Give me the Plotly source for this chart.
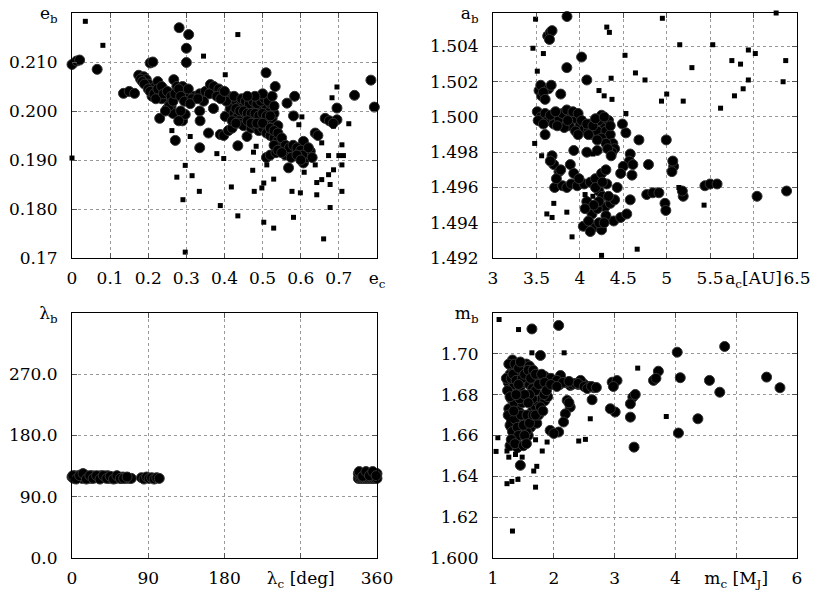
import plotly.graph_objects as go

# ---- panel 1: e_b vs e_c ----
ec_big = [0.000, 0.012, 0.020, 0.066, 0.135, 0.150, 0.164, 0.175, 0.188, 0.195, 0.205, 0.212,
          0.200, 0.215, 0.225, 0.210, 0.230, 0.240, 0.245, 0.255, 0.250, 0.235, 0.230,
          0.267, 0.275, 0.260, 0.265, 0.271, 0.281, 0.306, 0.300, 0.300,
          0.290, 0.300, 0.310, 0.290, 0.297, 0.285, 0.320, 0.335, 0.335, 0.336, 0.335,
          0.350, 0.363, 0.372, 0.358, 0.371, 0.385, 0.395, 0.389, 0.402, 0.398, 0.410, 0.420, 0.435,
          0.410, 0.420, 0.430, 0.440, 0.450, 0.460, 0.470, 0.480, 0.490, 0.500, 0.510, 0.520,
          0.415, 0.425, 0.435, 0.445, 0.455, 0.465, 0.475, 0.485, 0.495, 0.505, 0.515, 0.525,
          0.440, 0.450, 0.459, 0.470, 0.480, 0.490, 0.500, 0.510,
          0.509, 0.533, 0.520, 0.530, 0.540,
          0.520, 0.530, 0.540, 0.550, 0.545, 0.555, 0.565, 0.575, 0.585, 0.595, 0.610, 0.620,
          0.510, 0.520, 0.535, 0.560,
          0.564, 0.584, 0.581, 0.568, 0.607, 0.607, 0.615, 0.625,
          0.638, 0.645, 0.664, 0.675, 0.695, 0.695, 0.685, 0.741, 0.784, 0.793,
          0.180, 0.185, 0.190, 0.200, 0.205, 0.215, 0.220, 0.225, 0.235, 0.240, 0.250, 0.260,
          0.255, 0.245, 0.265, 0.270, 0.280, 0.285, 0.295, 0.305, 0.315, 0.280, 0.310,
          0.405, 0.425, 0.445, 0.455, 0.465, 0.475, 0.485, 0.495, 0.505, 0.515, 0.525, 0.500, 0.480, 0.460,
          0.430, 0.440, 0.450, 0.460, 0.470, 0.480, 0.490, 0.500, 0.510, 0.520, 0.530,
          0.420, 0.430, 0.460, 0.470, 0.485, 0.500, 0.520, 0.530, 0.540,
          0.360, 0.380, 0.390, 0.400, 0.345, 0.330,
          0.550, 0.560, 0.570, 0.580, 0.590, 0.600, 0.605, 0.530, 0.540, 0.550, 0.575, 0.590, 0.600, 0.620, 0.630]
eb_big = [0.2095, 0.2102, 0.2104, 0.2085, 0.2036, 0.2040, 0.2036, 0.2073, 0.2070, 0.2064, 0.2098, 0.2100,
          0.2055, 0.2048, 0.2060, 0.2030, 0.2040, 0.2045, 0.2030, 0.2020, 0.2005, 0.2025, 0.1985,
          0.2064, 0.2050, 0.2010, 0.1995, 0.1940, 0.2170, 0.2156, 0.2128, 0.2099,
          0.2050, 0.2040, 0.2030, 0.1980, 0.1993, 0.2000, 0.2030, 0.2035, 0.2000, 0.1980, 0.1925,
          0.2040, 0.2054, 0.2050, 0.1955, 0.2005, 0.2045, 0.2040, 0.1952, 0.1989, 0.1950, 0.1960, 0.1965, 0.1929,
          0.2030, 0.2020, 0.2015, 0.2010, 0.2010, 0.2005, 0.2000, 0.2005, 0.2000, 0.2010, 0.2005, 0.2000,
          0.2005, 0.1995, 0.1990, 0.1985, 0.1995, 0.1990, 0.1985, 0.1990, 0.1980, 0.1985, 0.1975, 0.1985,
          0.1975, 0.1970, 0.1948, 0.1965, 0.1970, 0.1960, 0.1965, 0.1955,
          0.2078, 0.2050, 0.2015, 0.1995, 0.1970,
          0.1950, 0.1945, 0.1940, 0.1935, 0.1925, 0.1920, 0.1925, 0.1915, 0.1920, 0.1915, 0.1915, 0.1910,
          0.1905, 0.1910, 0.1915, 0.1910,
          0.2016, 0.2030, 0.1990, 0.1884, 0.1938, 0.1894, 0.1905, 0.1918,
          0.1955, 0.1950, 0.1985, 0.1980, 0.2006, 0.1982, 0.1975, 0.2032, 0.2063, 0.2008,
          0.2065, 0.2060, 0.2055, 0.2045, 0.2040, 0.2035, 0.2025, 0.2045, 0.2050, 0.2035, 0.2040, 0.2030,
          0.2010, 0.2000, 0.2020, 0.2035, 0.2045, 0.2030, 0.2020, 0.2045, 0.2025, 0.1980, 0.2015,
          0.2020, 0.2030, 0.2025, 0.2020, 0.2015, 0.2020, 0.2015, 0.2020, 0.2025, 0.2020, 0.2030, 0.2035, 0.2030, 0.2030,
          0.2005, 0.2000, 0.2000, 0.1995, 0.1995, 0.1995, 0.1990, 0.1995, 0.1990, 0.1990, 0.2010,
          0.1980, 0.1975, 0.1980, 0.1975, 0.1975, 0.1975, 0.1965, 0.1960, 0.1955,
          0.2035, 0.2030, 0.2025, 0.2040, 0.2020, 0.2025,
          0.1945, 0.1930, 0.1925, 0.1930, 0.1925, 0.1920, 0.1910, 0.1930, 0.1920, 0.1915, 0.1905, 0.1910, 0.1900, 0.1925, 0.1905]
ec_small = [0.035, 0.081, 0.000, 0.345, 0.435, 0.402, 0.275, 0.297, 0.291, 0.315, 0.310, 0.334, 0.262,
            0.297, 0.380, 0.398, 0.389, 0.418, 0.435, 0.476, 0.483, 0.474, 0.478, 0.498, 0.503, 0.503,
            0.511, 0.529, 0.529, 0.577, 0.581, 0.599, 0.603, 0.595, 0.609, 0.638, 0.642, 0.642, 0.655,
            0.655, 0.660, 0.673, 0.677, 0.677, 0.673, 0.682, 0.695, 0.686, 0.700, 0.712, 0.708, 0.708,
            0.708, 0.726, 0.686]
eb_small = [0.2183, 0.2134, 0.1904, 0.2112, 0.2156, 0.2074, 0.1865, 0.1889, 0.1819, 0.1868, 0.1948, 0.1836, 0.1960,
            0.1712, 0.1913, 0.1903, 0.1807, 0.1845, 0.1786, 0.1916, 0.1928, 0.1879, 0.1836, 0.1843, 0.1853, 0.1773,
            0.1890, 0.1861, 0.1761, 0.1836, 0.1783, 0.1833, 0.1988, 0.1972, 0.1875, 0.1890, 0.1854, 0.1829, 0.1935,
            0.1860, 0.1739, 0.1870, 0.1850, 0.1803, 0.1909, 0.2027, 0.2049, 0.1880, 0.1909, 0.1909, 0.1931, 0.1890,
            0.1836, 0.1974, 0.1969]

# ---- panel 2: a_b vs a_c ----
ac_big = [3.852, 3.63, 3.66, 3.68, 3.65, 3.85, 4.02, 4.08,
          3.53, 3.55, 3.56, 3.64, 3.67, 3.78,
          3.51, 3.55, 3.60, 3.63, 3.70, 3.76, 3.80, 3.85, 3.90, 3.95, 4.00, 4.05, 3.88, 3.82, 3.95,
          4.10, 4.15, 4.20, 4.25, 4.28, 4.30, 4.33, 4.35, 4.38, 4.40, 4.22, 4.12, 4.25, 4.30,
          4.49, 4.53, 4.68, 4.995, 3.60,
          3.68, 3.70, 3.76, 3.66, 3.89, 3.93, 3.93, 4.08, 4.20, 4.37, 4.58, 4.57,
          3.71, 3.80, 3.85, 3.90, 3.97, 4.05, 4.12, 4.18, 4.25, 4.31, 4.43, 4.22,
          4.50, 4.47, 4.60, 4.61, 4.79,
          4.77, 4.84, 4.91, 5.08, 5.06, 5.07, 4.98, 4.99, 5.19, 5.18,
          5.44, 5.50, 5.58, 6.04, 6.38, 4.58,
          4.08, 4.14, 4.18, 4.25, 4.04, 4.10, 4.29, 4.35, 4.39, 4.47, 4.54, 4.40, 4.20, 4.26, 4.12,
          3.52, 3.58, 3.66, 3.72, 3.74, 3.86, 3.92, 3.98, 4.02, 4.08, 4.15, 4.18, 4.28, 4.35, 4.20,
          4.32, 4.36, 4.10, 3.98,
          4.22, 4.30, 4.33, 4.16, 4.22, 4.28, 4.06, 4.18, 3.99, 4.30, 3.73, 3.78, 4.26, 3.58, 3.60]
ab_big = [1.5057, 1.5046, 1.5048, 1.5049, 1.5044, 1.5028, 1.5034, 1.5021,
          1.5015, 1.5018, 1.5012, 1.5016, 1.5018, 1.5013,
          1.5003, 1.5000, 1.5002, 1.4998, 1.4996, 1.4999, 1.5002, 1.5004, 1.5000, 1.4999, 1.4995, 1.4993, 1.4995, 1.4994, 1.4992,
          1.4993, 1.4990, 1.4992, 1.5001, 1.4996, 1.4992, 1.4998, 1.4990, 1.4985, 1.4982, 1.4998, 1.4996, 1.4988, 1.4985,
          1.4996, 1.4991, 1.4987, 1.4987, 1.4990,
          1.4978, 1.4973, 1.4969, 1.4975, 1.4973, 1.4968, 1.4981, 1.4980, 1.4981, 1.4980, 1.4979, 1.4975,
          1.4960, 1.4961, 1.4960, 1.4962, 1.4961, 1.4962, 1.4963, 1.4965, 1.4968, 1.4962, 1.4960, 1.4958,
          1.4972, 1.4968, 1.4967, 1.4973, 1.4973,
          1.4956, 1.4957, 1.4957, 1.4972, 1.4969, 1.4975, 1.4951, 1.4947, 1.4955, 1.4958,
          1.4961, 1.4962, 1.4962, 1.4955, 1.4958, 1.4953,
          1.4952, 1.4945, 1.4938, 1.4936, 1.4938, 1.4941, 1.4949, 1.4951, 1.4941, 1.4943, 1.4945, 1.4953, 1.4948, 1.4955, 1.4935,
          1.4998, 1.4996, 1.5001, 1.5003, 1.4995, 1.4998, 1.5003, 1.5002, 1.4998, 1.4996, 1.4995, 1.4999, 1.5000, 1.4995, 1.4987,
          1.4982, 1.4978, 1.4990, 1.4990,
          1.4952, 1.4944, 1.4955, 1.4950, 1.4940, 1.4940, 1.4948, 1.4960, 1.4965, 1.4970, 1.4965, 1.4970, 1.4963, 1.5014, 1.5010]
ac_small = [3.49, 4.95, 6.26, 4.31, 4.34, 3.46, 3.58, 3.51, 4.52, 4.36, 4.64, 4.75, 5.15, 5.29, 5.53,
            5.75, 5.85, 5.94, 6.02, 6.37, 6.34, 5.94, 5.88, 5.78, 5.00, 4.94, 5.19, 5.62, 4.22, 4.28,
            4.37, 4.53, 3.48, 3.56, 3.70, 3.62, 3.68, 3.85, 3.91, 4.06, 4.15, 4.25, 4.66, 5.14, 5.43, 4.15]
ab_small = [1.50555, 1.5056, 1.5059, 1.5051, 1.5048, 1.5039, 1.5036, 1.5026, 1.5035, 1.5022, 1.5025, 1.5021, 1.5041, 1.5028, 1.5041,
            1.5032, 1.5030, 1.5038, 1.5036, 1.5032, 1.5020, 1.5021, 1.5016, 1.5012, 1.5013, 1.5009, 1.5009, 1.5005, 1.5015, 1.5012,
            1.5010, 1.5002, 1.4985, 1.4978, 1.4951, 1.4945, 1.4943, 1.4946, 1.4932, 1.4956, 1.4955, 1.49215, 1.4925, 1.4960, 1.4950, 1.4979]

# ---- panel 3: lambda_b vs lambda_c ----
lc_big = [0, 2, 4, 6, 8, 10, 12, 14, 16, 18, 20, 22, 24, 26, 28, 30, 32, 34, 36, 38, 40, 42, 44, 46,
          48, 50, 52, 54, 56, 58, 60, 62, 64, 66, 68, 70,
          1, 5, 9, 13, 17, 21, 25, 29, 33, 37, 41, 45, 49, 53, 57, 61, 65,
          82, 85, 88, 91, 94, 97, 100, 103,
          338, 340, 342, 344, 346, 348, 350, 352, 354, 356, 358, 360,
          338, 340, 342, 344, 346, 348, 350, 352, 354, 356, 358, 360,
          339, 343, 347, 351, 355, 359]
lb_big = [119, 117, 121, 118, 120, 122, 117, 123, 121, 118, 120, 117, 121, 119, 118, 120, 117, 121, 119, 118, 120, 121, 117, 119,
          118, 119, 117, 120, 118, 117, 119, 118, 117, 118, 117, 117,
          121, 116, 121, 124, 116, 121, 117, 121, 116, 121, 117, 120, 116, 121, 117, 117, 119,
          118, 116, 119, 117, 118, 116, 118, 117,
          117, 117, 117, 117, 117, 117, 117, 117, 117, 117, 117, 117,
          124, 124, 124, 124, 124, 124, 124, 124, 124, 124, 124, 124,
          127, 120, 127, 121, 127, 121]

# ---- panel 4: m_b vs m_c ----
mc_big = [1.64, 2.08, 1.78, 4.03, 4.81, 4.08, 3.72, 3.64, 3.68, 4.56, 4.73, 5.50, 5.72, 4.37, 4.05, 3.32,
          3.26, 3.30, 3.34, 3.26, 3.01, 2.93, 2.96, 3.04, 2.98, 2.63, 2.66, 2.58, 2.49, 2.44, 2.40,
          2.27, 2.22, 2.27, 2.19, 2.16, 2.25, 2.11, 2.08, 1.94, 2.00, 1.45, 1.26,
          1.25, 1.28, 1.30, 1.32, 1.35, 1.30, 1.35, 1.40, 1.45, 1.50, 1.55, 1.60, 1.45, 1.50, 1.55,
          1.30, 1.35, 1.40, 1.32, 1.38, 1.42, 1.45, 1.50, 1.55, 1.48, 1.35, 1.40, 1.30, 1.28,
          1.60, 1.70, 1.80, 1.90, 2.00, 1.85, 1.75, 1.65, 2.10, 2.20, 2.30, 2.35, 1.95,
          1.60, 1.65, 1.70, 1.75, 1.80, 1.85, 1.62, 1.68, 1.72, 1.58, 1.75, 1.55, 1.90, 1.65, 1.70, 1.60,
          1.22, 1.24, 1.26, 1.28, 1.30, 1.33, 1.36, 1.38, 1.42, 1.45, 1.48, 1.52, 1.58, 1.62, 1.66, 1.70,
          1.75, 1.80, 1.85, 1.25, 1.28, 1.32, 1.36, 1.40, 1.42, 1.46, 1.50, 1.52, 1.56, 1.60, 1.66, 1.70,
          1.78, 1.82, 1.84, 1.88, 1.48, 1.44, 1.52, 1.58, 1.34, 1.38, 1.42, 1.30, 1.40, 1.36, 1.50, 1.55,
          2.05, 2.15, 2.25, 2.40, 2.50, 2.55, 2.62, 2.70, 1.95, 2.05]
mb_big = [1.7122, 1.7139, 1.6992, 1.7008, 1.7036, 1.6883, 1.6915, 1.6870, 1.6880, 1.6870, 1.6812, 1.6886, 1.6834, 1.6682, 1.6612, 1.6543,
          1.6690, 1.6788, 1.6801, 1.6755, 1.6715, 1.6731, 1.6861, 1.6869, 1.6840, 1.6775, 1.6834, 1.6840, 1.6853, 1.6870, 1.6850,
          1.6845, 1.6772, 1.6739, 1.6706, 1.6666, 1.6760, 1.6894, 1.6617, 1.6625, 1.6610, 1.6454, 1.6731,
          1.6860, 1.6900, 1.6940, 1.6970, 1.6920, 1.6830, 1.6850, 1.6880, 1.6900, 1.6930, 1.6950, 1.6940, 1.6840, 1.6860, 1.6880,
          1.6780, 1.6760, 1.6800, 1.6700, 1.6680, 1.6720, 1.6650, 1.6700, 1.6680, 1.6620, 1.6600, 1.6560, 1.6640, 1.6550,
          1.6850, 1.6860, 1.6870, 1.6850, 1.6860, 1.6890, 1.6880, 1.6830, 1.6850, 1.6860, 1.6850, 1.6855, 1.6880,
          1.6700, 1.6720, 1.6740, 1.6760, 1.6780, 1.6770, 1.6640, 1.6680, 1.6660, 1.6600, 1.6700, 1.6620, 1.6790, 1.6780, 1.6820, 1.6800,
          1.6880, 1.6820, 1.6950, 1.6790, 1.6880, 1.6900, 1.6950, 1.6870, 1.6930, 1.6960, 1.6880, 1.6900, 1.6920, 1.6880, 1.6920, 1.6900,
          1.6850, 1.6900, 1.6860, 1.6700, 1.6650, 1.6620, 1.6680, 1.6640, 1.6600, 1.6700, 1.6650, 1.6600, 1.6700, 1.6660, 1.6700, 1.6700,
          1.6740, 1.6720, 1.6800, 1.6820, 1.6760, 1.6780, 1.6800, 1.6760, 1.6720, 1.6800, 1.6850, 1.6580, 1.6540, 1.6560, 1.6550, 1.6560,
          1.6870, 1.6860, 1.6865, 1.6855, 1.6840, 1.6830, 1.6840, 1.6835, 1.6850, 1.6840]
mc_small = [1.10, 1.42, 2.17, 1.64, 3.38, 3.85, 2.60, 2.41, 2.52, 1.89, 1.81, 1.70, 1.08, 1.05, 1.26, 1.23,
            1.37, 1.48, 1.26, 1.67, 1.72, 1.23, 1.31, 1.41, 1.70, 1.32]
mb_small = [1.7168, 1.7119, 1.7005, 1.7005, 1.6930, 1.6693, 1.6682, 1.6573, 1.6581, 1.6568, 1.6524, 1.6579, 1.6589, 1.6522, 1.6494, 1.6524,
            1.6507, 1.6494, 1.6679, 1.6426, 1.6449, 1.6364, 1.6375, 1.6385, 1.6347, 1.6132]

W, H = 817, 600
big = dict(size=10, color="black", line=dict(color="#333333", width=1))
small = dict(size=5, color="black", symbol="square")

panels = [
    (ec_big, eb_big, ec_small, eb_small, "x", "y"),
    (ac_big, ab_big, ac_small, ab_small, "x2", "y2"),
    (lc_big, lb_big, [], [], "x3", "y3"),
    (mc_big, mb_big, mc_small, mb_small, "x4", "y4"),
]

fig = go.Figure()
for xb, yb, xs, ys, xa, ya in panels:
    fig.add_trace(go.Scatter(x=xb, y=yb, mode="markers", marker=big, xaxis=xa, yaxis=ya,
                             cliponaxis=False, showlegend=False))
    if xs:
        fig.add_trace(go.Scatter(x=xs, y=ys, mode="markers", marker=small, xaxis=xa, yaxis=ya,
                                 cliponaxis=False, showlegend=False))

# plot areas in pixels: left, right, top, bottom
boxes = {
    "1": (72, 377, 13, 258),
    "2": (493, 797, 13, 258),
    "3": (72, 377, 313, 558),
    "4": (493, 797, 313, 558),
}

common = dict(showline=True, linecolor="black", linewidth=1, mirror="allticks",
              ticks="inside", ticklen=5, tickcolor="#555555",
              showgrid=True, gridcolor="#999999", griddash="dot", gridwidth=1,
              zeroline=False, automargin=False, tickmode="array", tickangle=0,
              ticklabeloverflow="allow",
              tickfont=dict(family="DejaVu Serif", size=17, color="black"))

axes = {
    "1": (dict(range=[0, 0.8], tickvals=[0, 0.1, 0.2, 0.3, 0.4, 0.5, 0.6, 0.7, 0.8],
               ticktext=["0", "0.1", "0.2", "0.3", "0.4", "0.5", "0.6", "0.7", "e<sub>c</sub>"]),
          dict(range=[0.17, 0.22], tickvals=[0.17, 0.18, 0.19, 0.20, 0.21, 0.22],
               ticktext=["0.17", "0.180", "0.190", "0.200", "0.210", "e<sub>b</sub>"])),
    "2": (dict(range=[3, 6.5], tickvals=[3, 3.5, 4, 4.5, 5, 5.5, 6, 6.5],
               ticktext=["3", "3.5", "4", "4.5", "5", "5.5", "a<sub>c</sub>[AU]", "6.5"]),
          dict(range=[1.492, 1.5059], tickvals=[1.492, 1.494, 1.496, 1.498, 1.500, 1.502, 1.504, 1.5059],
               ticktext=["1.492", "1.494", "1.496", "1.498", "1.500", "1.502", "1.504", "a<sub>b</sub>"])),
    "3": (dict(range=[0, 360], tickvals=[0, 90, 180, 270, 360],
               ticktext=["0", "90", "180", "λ<sub>c</sub> [deg]", "360"]),
          dict(range=[0, 360], tickvals=[0, 90, 180, 270, 360],
               ticktext=["0.0", "90.0", "180.0", "270.0", "λ<sub>b</sub>"])),
    "4": (dict(range=[1, 6], tickvals=[1, 2, 3, 4, 5, 6],
               ticktext=["1", "2", "3", "4", "m<sub>c</sub> [M<sub>J</sub>]", "6"]),
          dict(range=[1.6, 1.72], tickvals=[1.60, 1.62, 1.64, 1.66, 1.68, 1.70, 1.72],
               ticktext=["1.600", "1.62", "1.64", "1.66", "1.68", "1.70", "m<sub>b</sub>"])),
}

layout = {}
for k, (x0, x1, y0, y1) in boxes.items():
    sfx = "" if k == "1" else k
    xa, ya = axes[k]
    layout["xaxis" + sfx] = dict(common, domain=[x0 / W, x1 / W], anchor="y" + sfx,
                                 ticklabelstandoff=5, **xa)
    layout["yaxis" + sfx] = dict(common, domain=[1 - y1 / H, 1 - y0 / H], anchor="x" + sfx,
                                 ticklabelstandoff=10, **ya)

fig.update_layout(**layout)
fig.update_layout(
    template="none",
    width=W, height=H,
    margin=dict(l=0, r=0, t=0, b=0),
    paper_bgcolor="white",
    plot_bgcolor="white",
    showlegend=False,
)

# drop the browser's default 8px body margin so the figure sits at the page corner
fig.write_html("out.html", config={"displayModeBar": False},
               post_script="document.body.style.margin = '0';")
